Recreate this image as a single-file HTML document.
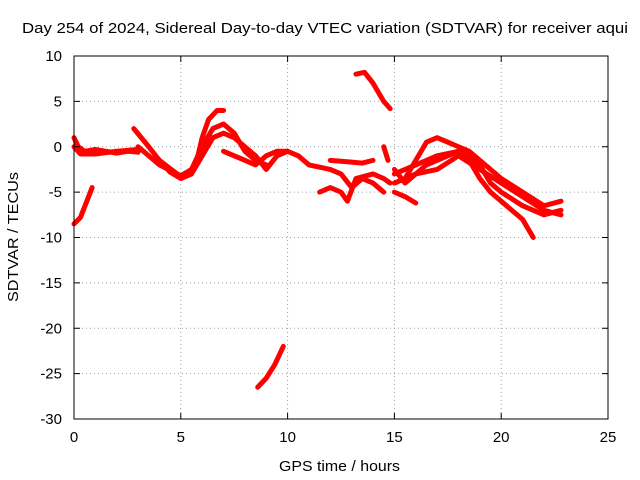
<!DOCTYPE html>
<html><head><meta charset="utf-8"><style>
body{margin:0;background:#fff;}
svg{display:block;font-family:"Liberation Sans",sans-serif;}
</style></head><body>
<svg id="chart" width="640" height="480">
<rect x="0" y="0" width="640" height="480" fill="#fff"/>
<text x="22" y="33" font-size="15" textLength="606" lengthAdjust="spacingAndGlyphs" fill="#000">Day 254 of 2024, Sidereal Day-to-day VTEC variation (SDTVAR) for receiver aqui</text>
<g id="grid"></g>
<g id="series"></g>
<rect x="74" y="56" width="534" height="363" fill="none" stroke="#000" stroke-width="1"/>
<g id="ticks"></g>
<text x="279" y="471" font-size="15" textLength="121" lengthAdjust="spacingAndGlyphs">GPS time / hours</text>
<text transform="translate(18,302) rotate(-90)" font-size="15" textLength="130" lengthAdjust="spacingAndGlyphs">SDTVAR / TECUs</text>
</svg>
<script>
const xTicks=[0,5,10,15,20,25];
const yTicks=[10,5,0,-5,-10,-15,-20,-25,-30];
const trackA=[[0,-8.5],[0.3,-7.8],[0.6,-6],[0.85,-4.5]];
const trackB=[[0,1],[0.2,0],[0.5,-0.5],[1,-0.3],[1.5,-0.5],[2,-0.7],[2.5,-0.5],[3,-0.6]];
const trackB2=[[0,0],[0.3,-0.8],[1,-0.8],[2,-0.5],[3,-0.3]];
const trackC=[[2.8,2],[3.5,0],[4,-1.5],[4.5,-2.8],[5,-3.5],[5.5,-3],[5.8,-1],[6,1],[6.3,3],[6.7,4],[7,4]];
const trackD=[[3,0],[4,-2],[5,-3.2],[5.5,-2.5],[6,0],[6.5,2],[7,2.5],[7.5,1.5],[8,-0.5],[8.5,-1.5],[9,-2]];
const trackE=[[4,-1.5],[5,-3.3],[5.5,-3],[6,-1],[6.5,1],[7,1.5],[7.5,1],[8,0],[8.5,-1],[9,-2.5],[9.5,-1],[10,-0.5]];
const trackF=[[7,-0.5],[8,-1.5],[8.5,-2],[9,-1],[9.5,-0.5],[10,-0.5],[10.5,-1],[11,-2],[12,-2.5],[12.5,-3],[13,-4.5],[13.5,-3.5],[14,-4],[14.5,-5]];
const trackG=[[11.5,-5],[12,-4.5],[12.5,-5],[12.8,-6],[13.2,-3.5],[14,-3],[14.5,-3.5],[14.8,-4]];
const trackH=[[12,-1.5],[13,-1.7],[13.5,-1.8],[14,-1.5]];
const trackI=[[14.5,0],[14.7,-1.5]];
const trackJ=[[13.2,8],[13.6,8.2],[14,7],[14.5,5],[14.8,4.2]];
const trackK=[[8.6,-26.5],[9,-25.5],[9.4,-24],[9.8,-22]];
const trackL=[[15,-2.5],[15.5,-4],[16,-3],[16.5,-2],[17,-1.5],[17.5,-1],[18,-0.5],[18.5,-1.5],[19,-3.5],[19.5,-5],[20,-6],[21,-8],[21.5,-10]];
const trackM=[[15,-4],[15.5,-3.5],[16,-1.5],[16.5,0.5],[17,1],[17.5,0.5],[18,0],[18.5,-0.5],[19,-1.5],[19.5,-2.5],[20,-3.5],[21,-5],[22,-6.5],[22.8,-6]];
const trackN=[[15,-3],[16,-2],[17,-1],[18,-0.5],[18.5,-1],[19,-2],[19.5,-4],[20,-5],[21,-6.5],[22,-7.5],[22.8,-7]];
const trackO=[[15,-4],[16,-3],[17,-2.5],[18,-1],[19,-2.5],[20,-4],[21,-5.5],[22,-7],[22.8,-7.5]];
const trackP=[[15,-5],[15.5,-5.5],[16,-6.2]];
const tracks=[trackA,trackB,trackB2,trackC,trackD,trackE,trackF,trackG,trackH,trackI,trackJ,trackK,trackL,trackM,trackN,trackO,trackP];

const NS="http://www.w3.org/2000/svg";
const X0=74,X1=608,Y0=419,Y1=56;
function xs(v){return X0+(v-0)/25*(X1-X0);}
function ys(v){return Y0-(v+30)/40*(Y0-Y1);}
const grid=document.getElementById('grid'),ticks=document.getElementById('ticks'),ser=document.getElementById('series');
function mk(tag,attrs,parent){const e=document.createElementNS(NS,tag);for(const k in attrs)e.setAttribute(k,attrs[k]);parent.appendChild(e);return e;}
xTicks.forEach(t=>{
  const x=xs(t);
  if(t>0&&t<25){const g=mk('line',{x1:x,x2:x,y1:Y1,y2:Y0,stroke:'#a0a0a0','stroke-dasharray':'1,3'},grid);
  
  }
  mk('line',{x1:x,x2:x,y1:Y0,y2:Y0-6,stroke:'#000'},ticks);
  mk('line',{x1:x,x2:x,y1:Y1,y2:Y1+6,stroke:'#000'},ticks);
  const l=mk('text',{x:x,y:Y0+23,'font-size':15,'text-anchor':'middle'},ticks);
  l.textContent=t;
  
  
});
yTicks.forEach(t=>{
  const y=ys(t);
  if(t>-30&&t<10){const g=mk('line',{x1:X0,x2:X1,y1:y,y2:y,stroke:'#a0a0a0','stroke-dasharray':'1,3'},grid);
  
  }
  mk('line',{x1:X0,x2:X0+6,y1:y,y2:y,stroke:'#000'},ticks);
  mk('line',{x1:X1,x2:X1-6,y1:y,y2:y,stroke:'#000'},ticks);
  const l=mk('text',{x:X0-12,y:y+5,'font-size':15,'text-anchor':'end'},ticks);
  l.textContent=t;
  
  
});
tracks.forEach(tr=>{
  const p=mk('polyline',{points:tr.map(d=>xs(d[0])+','+ys(d[1])).join(' '),fill:'none',stroke:'#f00','stroke-width':5,'stroke-linejoin':'round','stroke-linecap':'round'},ser);
  
  
});
</script>
</body></html>
